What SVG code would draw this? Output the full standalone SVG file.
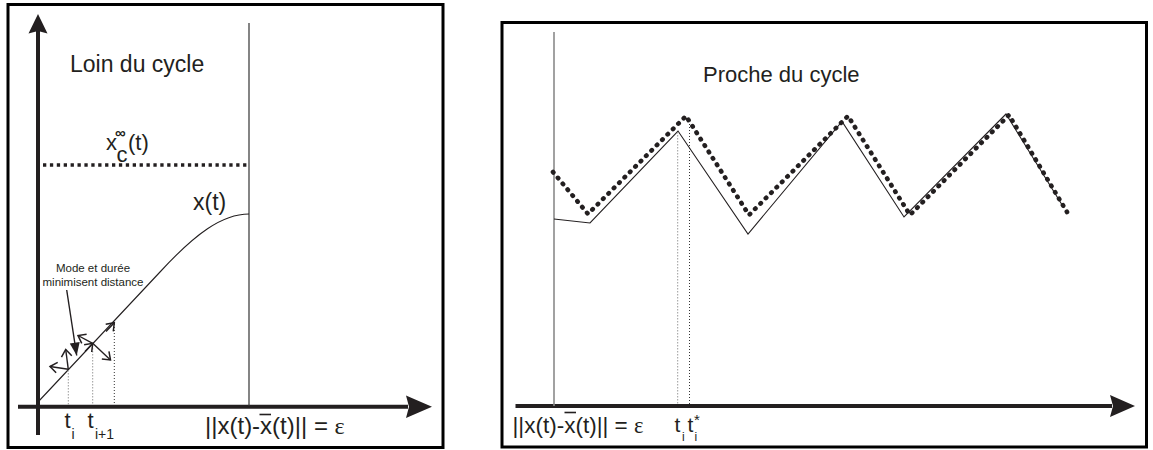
<svg xmlns="http://www.w3.org/2000/svg" width="1153" height="450" viewBox="0 0 1153 450">
<style>
.frame{fill:none;stroke:#000;stroke-width:3}
.axis{stroke:#231f20;stroke-width:4;fill:none}
.head{fill:#231f20;stroke:none}
.thin{stroke:#231f20;stroke-width:1.1;fill:none}
.vline{stroke:#333;stroke-width:1.2;fill:none}
.vgray{stroke:#8a8a8a;stroke-width:1.6;fill:none}
.dotH{stroke:#231f20;stroke-width:3.3;stroke-dasharray:3.3 3.6;fill:none}
.dotC{stroke:#231f20;stroke-width:4.6;stroke-dasharray:0.6 7;stroke-linecap:round;stroke-linejoin:round;fill:none}
.gGray{stroke:#9a9a9a;stroke-width:1;stroke-dasharray:1.5 1.5;fill:none}
.gBlack{stroke:#333;stroke-width:1;stroke-dasharray:1 2;fill:none}
.vec{stroke:#231f20;stroke-width:1.4;fill:none}
text{font-family:"Liberation Sans",Arial,sans-serif;fill:#231f20}
.eps{font-family:"Liberation Serif","Times New Roman",serif}
</style>
<defs>
<marker id="chev" markerUnits="userSpaceOnUse" markerWidth="14" markerHeight="14" refX="9" refY="7" orient="auto" viewBox="0 0 14 14">
<path d="M2,1.8 L9,7 L2,12.2" fill="none" stroke="#231f20" stroke-width="1.5"/>
</marker>
<marker id="fill" markerUnits="userSpaceOnUse" markerWidth="16" markerHeight="16" refX="14" refY="8" orient="auto" viewBox="0 0 16 16">
<path d="M1,3 L14,8 L1,13 Z" fill="#231f20"/>
</marker>
</defs>

<g id="left-panel">
<rect class="frame" x="8" y="4.5" width="435" height="443"/>
</g>

<g id="left-axes">
<line class="axis" x1="38" y1="435" x2="38" y2="31"/>
<polygon class="head" points="38,14 47.5,33.5 38,31 28.5,33.5"/>
<line class="axis" x1="18" y1="406.7" x2="408" y2="406.7"/>
<polygon class="head" points="432,406.7 406,418 409,406.7 406,395.5"/>
</g>

<g id="left-content">
<line class="vline" x1="249" y1="23" x2="249" y2="406"/>
<line class="dotH" x1="43" y1="165" x2="250" y2="165"/>
<path class="thin" d="M38,402 L160,272 C195,234 222,214 249,214"/>
<line class="gGray" x1="68.3" y1="370" x2="68.3" y2="405"/>
<line class="gGray" x1="92.7" y1="345" x2="92.7" y2="405"/>
<line class="gBlack" x1="114.3" y1="324" x2="114.3" y2="405"/>
</g>

<g id="connectors">
<line class="vec" x1="68.3" y1="369.3" x2="65.7" y2="349.5" marker-end="url(#chev)"/>
<line class="vec" x1="68.3" y1="369.3" x2="50" y2="366.5" marker-end="url(#chev)"/>
<line class="vec" x1="85" y1="351.5" x2="92.7" y2="343.3" marker-end="url(#chev)"/>
<line class="vec" x1="92.7" y1="343.3" x2="78" y2="335.5" marker-end="url(#chev)"/>
<line class="vec" x1="92.7" y1="343.3" x2="110.5" y2="360" marker-end="url(#chev)"/>
<line class="vec" x1="106" y1="331.5" x2="114.3" y2="322.7" marker-end="url(#chev)"/>
<line class="vec" x1="66.7" y1="290" x2="76.7" y2="355.5" marker-end="url(#fill)"/>
</g>

<g id="left-labels">
<text x="70" y="72" font-size="23">Loin du cycle</text>
<text x="106" y="150" font-size="22">x</text>
<text x="115" y="138" font-size="15" font-weight="bold">∞</text>
<text x="116.5" y="161.5" font-size="22">c</text>
<text x="128" y="150" font-size="22">(t)</text>
<text x="193" y="210" font-size="23">x(t)</text>
<text x="93" y="272" font-size="11.5" text-anchor="middle">Mode et durée</text>
<text x="93" y="286" font-size="11.5" text-anchor="middle">minimisent distance</text>
<text x="64.5" y="428" font-size="22">t</text>
<text x="71.5" y="438.5" font-size="14">i</text>
<text x="87.5" y="428" font-size="22">t</text>
<text x="95" y="439" font-size="14">i+1</text>
<text x="205" y="434" font-size="24">||x(t)-x(t)|| = <tspan class="eps">ε</tspan></text>
<line x1="259.5" y1="414.5" x2="271" y2="414.5" stroke="#231f20" stroke-width="1.6"/>
</g>

<g id="right-panel">
<rect class="frame" x="502" y="22.5" width="644.5" height="424.5"/>
</g>

<g id="right-axes">
<line class="axis" x1="515.5" y1="406" x2="1112" y2="406"/>
<polygon class="head" points="1135,406 1110,417 1113,406 1110,395"/>
</g>

<g id="right-content">
<line class="vgray" x1="554" y1="32" x2="554" y2="406"/>
<polyline class="thin" points="554,219 590,223 678,131 748,234 842,121.5 904,217 1006,114 1064,208"/>
<polyline class="dotC" points="553,172 588,214 686,116 749,215 848,116 910,215 1009,115 1067,212"/>
<line class="gGray" x1="677.7" y1="132" x2="677.7" y2="405"/>
<line class="gBlack" x1="689.5" y1="118" x2="689.5" y2="405"/>
</g>

<g id="right-labels">
<text x="703" y="82" font-size="22">Proche du cycle</text>
<text x="512.5" y="433" font-size="22.5">||x(t)-x(t)|| = <tspan class="eps">ε</tspan></text>
<line x1="564.5" y1="412.5" x2="576" y2="412.5" stroke="#231f20" stroke-width="1.6"/>
<text x="674.5" y="432" font-size="21">t</text>
<text x="682" y="440.5" font-size="12">i</text>
<text x="687.5" y="432" font-size="21">t</text>
<text x="694" y="425" font-size="15">*</text>
<text x="694.5" y="440.5" font-size="12">i</text>
</g>
</svg>
